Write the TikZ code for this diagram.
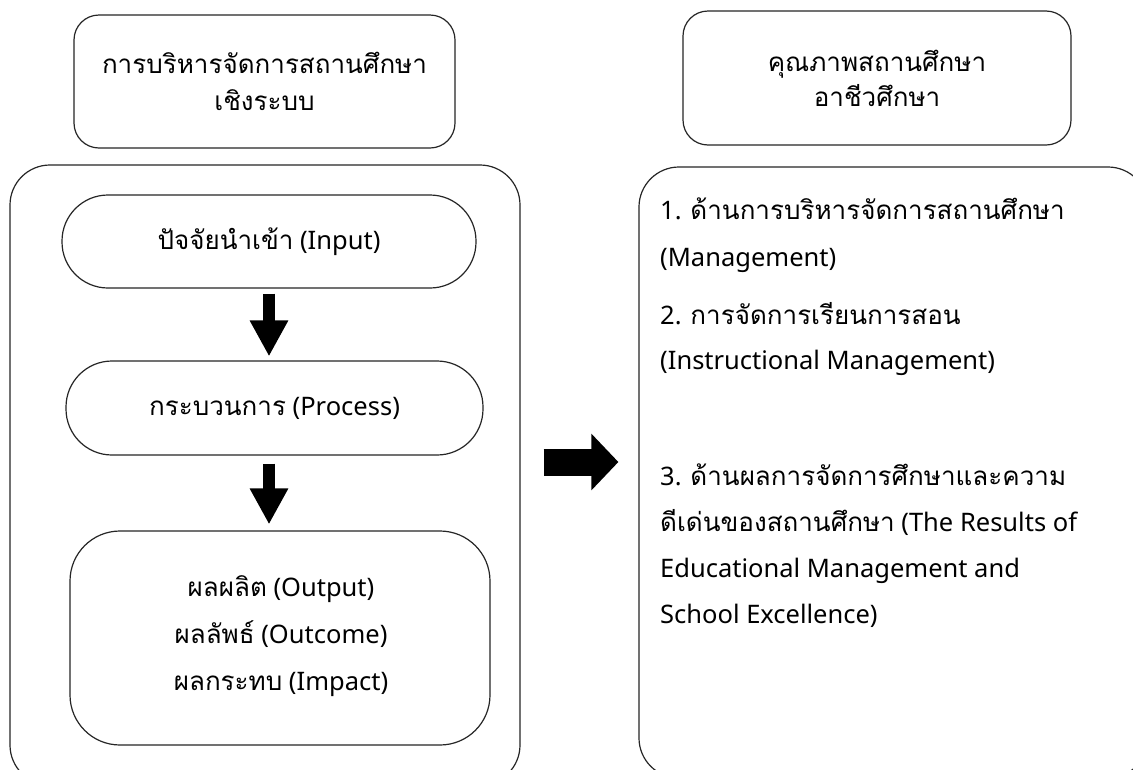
\documentclass[tikz,border=0pt]{standalone}
\usepackage{fontspec}
\setmainfont{Noto Sans}
\newfontfamily\thaifnt[Script=Thai,Scale=1.02]{Loma}
\newcommand{\thx}[1]{{\thaifnt #1}}
\usetikzlibrary{arrows.meta}
\tikzset{
  box/.style={draw=black!85, line width=1.2pt, rectangle, inner sep=0pt, align=center},
  txt/.style={inner sep=0pt, anchor=base west, font=\fontsize{25.5pt}{30pt}\selectfont},
  downarrow/.style={draw=black, line width=12pt, -{Triangle[width=36pt,length=36pt]}},
  rightarrow/.style={draw=black, line width=27pt, -{Triangle[width=55pt,length=27pt]}}
}
\begin{document}
\begin{tikzpicture}[x=1pt,y=-1pt]
\clip (0,0) rectangle (1133,769);
\fill[white] (0,0) rectangle (1133,769);
% top boxes
\node[box, rounded corners=25pt, minimum width=381pt, minimum height=133pt,
      font=\fontsize{25.5pt}{37pt}\selectfont] (topl) at (264.5,81.5)
      {\thx{การบริหารจัดการสถานศึกษา}\\\thx{เชิงระบบ}};
\node[box, rounded corners=25pt, minimum width=388pt, minimum height=134pt,
      font=\fontsize{25.5pt}{35pt}\selectfont] (topr) at (877,78)
      {\thx{คุณภาพสถานศึกษา}\\\thx{อาชีวศึกษา}};
% big boxes
\node[box, rounded corners=40pt, minimum width=510pt, minimum height=620pt] (lb) at (265,475) {};
\node[box, rounded corners=40pt, minimum width=509pt, minimum height=611pt] (rb) at (893.5,472.5) {};
% inner left boxes
\node[box, rounded corners=46pt, minimum width=414pt, minimum height=93pt,
      font=\fontsize{25.5pt}{30pt}\selectfont] (inp) at (269,241.5)
      {\thx{ปัจจัยนำเข้า} (Input)};
\node[box, rounded corners=46pt, minimum width=417pt, minimum height=94pt,
      font=\fontsize{25.5pt}{30pt}\selectfont] (proc) at (274.5,408)
      {\thx{กระบวนการ} (Process)};
\node[box, rounded corners=50pt, minimum width=420pt, minimum height=214pt] (outp) at (280,638) {};
\node[inner sep=0pt, align=center, font=\fontsize{25.5pt}{47pt}\selectfont] (outt) at (281,636)
      {\thx{ผลผลิต} (Output)\\\thx{ผลลัพธ์} (Outcome)\\\thx{ผลกระทบ} (Impact)};
% arrows
\draw[downarrow] ([yshift=-5pt]inp.south) -- ([yshift=4pt]inp.south |- proc.north);
\draw[downarrow] ([yshift=-8pt]proc.south -| inp.south) -- ([yshift=6pt]inp.south |- outp.north);
\coordinate (ra) at (543,462);
\draw[rightarrow] (ra -| lb.east) ++(23,0) -- ([xshift=-20pt]ra -| rb.west);
% right text
\node[txt] (r1a) at (660,219) {1. \thx{ด้านการบริหารจัดการสถานศึกษา}};
\node[txt] (r1b) at (660,266) {(Management)};
\node[txt] (r2a) at (660,324) {2. \thx{การจัดการเรียนการสอน}};
\node[txt] (r2b) at (660,369) {(Instructional Management)};
\node[txt] (r3a) at (660,485) {3. \thx{ด้านผลการจัดการศึกษาและความ}};
\node[txt] (r3b) at (660,531) {\thx{ดีเด่นของสถานศึกษา} (The Results of};
\node[txt] (r3c) at (660,577) {Educational Management and};
\node[txt] (r3d) at (660,623) {School Excellence)};
\end{tikzpicture}
\end{document}
